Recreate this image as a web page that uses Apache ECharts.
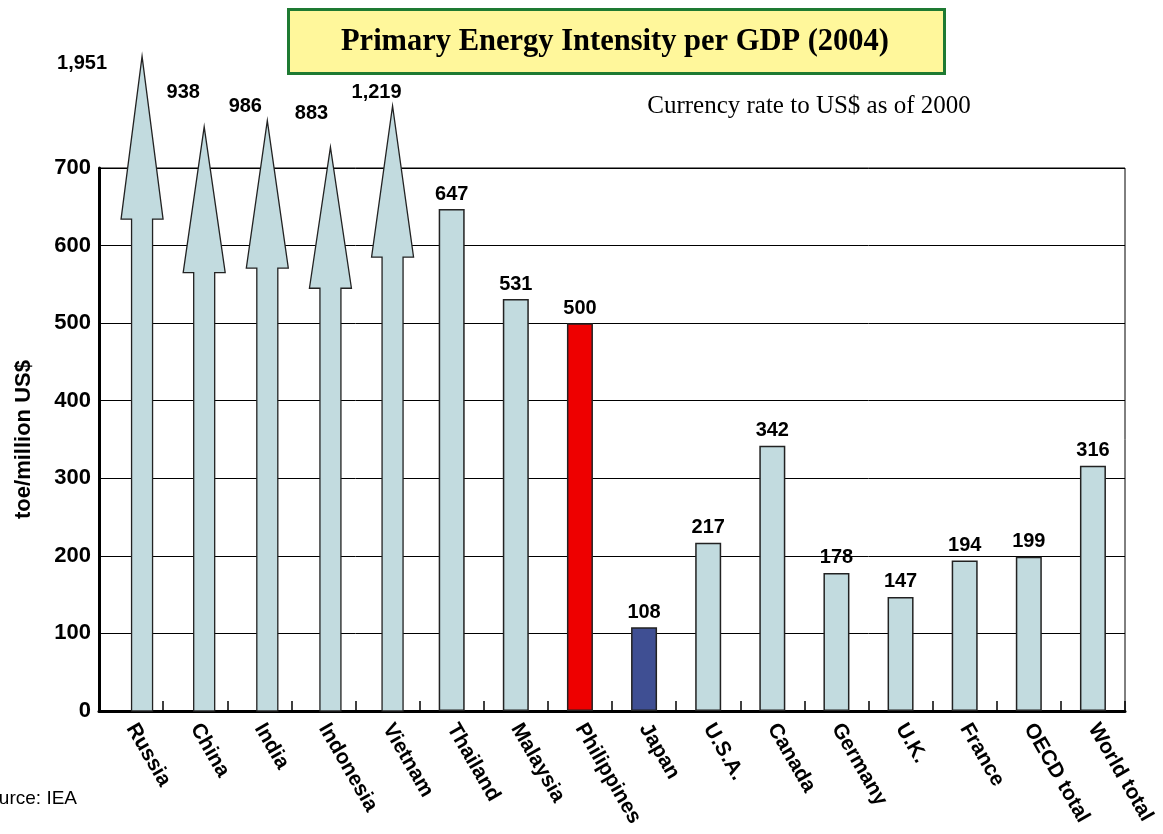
<!DOCTYPE html>
<html>
<head>
<meta charset="utf-8">
<script src="https://cdn.jsdelivr.net/npm/echarts@6/dist/echarts.min.js"></script>
<style>
html,body{margin:0;padding:0;background:#fff;}
#chart{width:1163px;height:834px;}
</style>
</head>
<body>
<div id="chart"></div>
<script>
// ---- data ----
const categories = ['Russia','China','India','Indonesia','Vietnam','Thailand','Malaysia','Philippines','Japan','U.S.A.','Canada','Germany','U.K.','France','OECD total','World total'];
// off-scale values drawn as arrows (first five categories)
const arrowValues = [1951, 938, 986, 883, 1219];
// schematic arrow tip and arrow-head base, in axis units (drawn beyond the 700 top)
const arrowTipAt = [844, 753, 761, 727, 780];
const arrowHeadAt = [634, 565, 571, 545, 585];
// regular bars
const barValues = [null, null, null, null, null, 647, 531, 500, 108, 217, 342, 178, 147, 194, 199, 316];
const yTickLabels = ['0','100','200','300','400','500','600','700'];

// ---- layout / style (not data) ----
const ARROW_LAYOUT = [
  {dx: 11, lx: -60, ly: 7},
  {dx: 9,  lx: -21, ly: -34},
  {dx: 8,  lx: -22, ly: -14},
  {dx: 7,  lx: -19, ly: -34},
  {dx: 5,  lx: -16, ly: -13}
];
const BAR_FILL = '#C2DBDF';
const HIGHLIGHT = {'Philippines': '#EE0000', 'Japan': '#3F4F93'};
const SANS = 'Arial, "Liberation Sans", Helvetica, sans-serif';
const SERIF = '"Times New Roman", "Liberation Serif", serif';

function fmt(v){ return String(v).replace(/\B(?=(\d{3})+(?!\d))/g, ','); }

const chart = echarts.init(document.getElementById('chart'), null, {renderer: 'canvas'});

const option = {
  backgroundColor: '#fff',
  animation: false,
  grid: {left: 99, right: 38, top: 168, bottom: 123, show: true, borderColor: '#000', borderWidth: 1, backgroundColor: 'transparent'},
  xAxis: {
    type: 'category',
    data: categories,
    axisLine: {show: true, lineStyle: {color: '#000', width: 3}},
    axisTick: {show: true, inside: true, length: 10, alignWithLabel: false, lineStyle: {color: '#000', width: 1.5}},
    axisLabel: {interval: 0, rotate: -60, margin: 14, color: '#000', fontFamily: SANS, fontWeight: 'bold', fontSize: 21},
    splitLine: {show: false}
  },
  yAxis: {
    type: 'value',
    min: 0, max: 700, interval: 100,
    name: 'toe/million US$',
    nameLocation: 'middle',
    nameGap: 64,
    nameRotate: 90,
    nameTextStyle: {color: '#000', fontFamily: SANS, fontWeight: 'bold', fontSize: 22},
    axisLine: {show: true, lineStyle: {color: '#000', width: 3}},
    axisTick: {show: false},
    axisLabel: {color: '#000', fontFamily: SANS, fontWeight: 'bold', fontSize: 22, margin: 8,
      formatter: function(v){ return yTickLabels[Math.round(v / 100)]; }},
    splitLine: {show: true, lineStyle: {color: '#000', width: 1}}
  },
  series: [
    {
      type: 'bar',
      data: barValues.map(function(v, i){
        const c = HIGHLIGHT[categories[i]] || BAR_FILL;
        return {value: v, itemStyle: {color: c}};
      }),
      barWidth: 26,
      itemStyle: {borderColor: '#222', borderWidth: 1.5},
      label: {show: true, position: 'top', distance: 5, color: '#000', fontFamily: SANS, fontWeight: 'bold', fontSize: 20,
        formatter: function(p){ return p.value == null ? '' : fmt(p.value); }},
      z: 3
    },
    {
      type: 'custom',
      clip: false,
      z: 4,
      encode: {x: 0, y: 2},
      data: arrowValues.map(function(v, i){ return [i, v, arrowTipAt[i], arrowHeadAt[i]]; }),
      renderItem: function(params, api){
        const i = api.value(0);
        const L = ARROW_LAYOUT[i];
        const p0 = api.coord([i, 0]);
        const x = p0[0] + L.dx;
        const y0 = p0[1];
        const yT = api.coord([i, api.value(2)])[1];
        const yB = api.coord([i, api.value(3)])[1];
        const sw = 10.5, hw = 21;
        return {
          type: 'group',
          children: [
            {type: 'polygon',
             shape: {points: [[x - sw, y0], [x - sw, yB], [x - hw, yB], [x, yT], [x + hw, yB], [x + sw, yB], [x + sw, y0]]},
             style: {fill: BAR_FILL, stroke: '#222', lineWidth: 1.3}},
            {type: 'text', x: x + L.lx, y: yT + L.ly,
             style: {text: fmt(api.value(1)), fill: '#000', font: 'bold 20px ' + SANS, align: 'center', verticalAlign: 'middle'}}
          ]
        };
      }
    }
  ],
  graphic: [
    {type: 'rect', left: 287, top: 8, shape: {width: 656, height: 64},
     style: {fill: '#FFF79B', stroke: '#1E7A32', lineWidth: 3}, z: 10},
    {type: 'text', x: 615, y: 42, z: 11,
     style: {text: 'Primary Energy Intensity per GDP (2004)', fill: '#000', font: 'bold 30.5px ' + SERIF, align: 'center', verticalAlign: 'middle'}},
    {type: 'text', x: 809, y: 106, z: 11,
     style: {text: 'Currency rate to US$ as of 2000', fill: '#000', font: '25px ' + SERIF, align: 'center', verticalAlign: 'middle'}},
    {type: 'text', x: 77, y: 799, z: 11,
     style: {text: 'Source: IEA', fill: '#000', font: '19px ' + SANS, align: 'right', verticalAlign: 'middle'}}
  ]
};
chart.setOption(option);
</script>
</body>
</html>
